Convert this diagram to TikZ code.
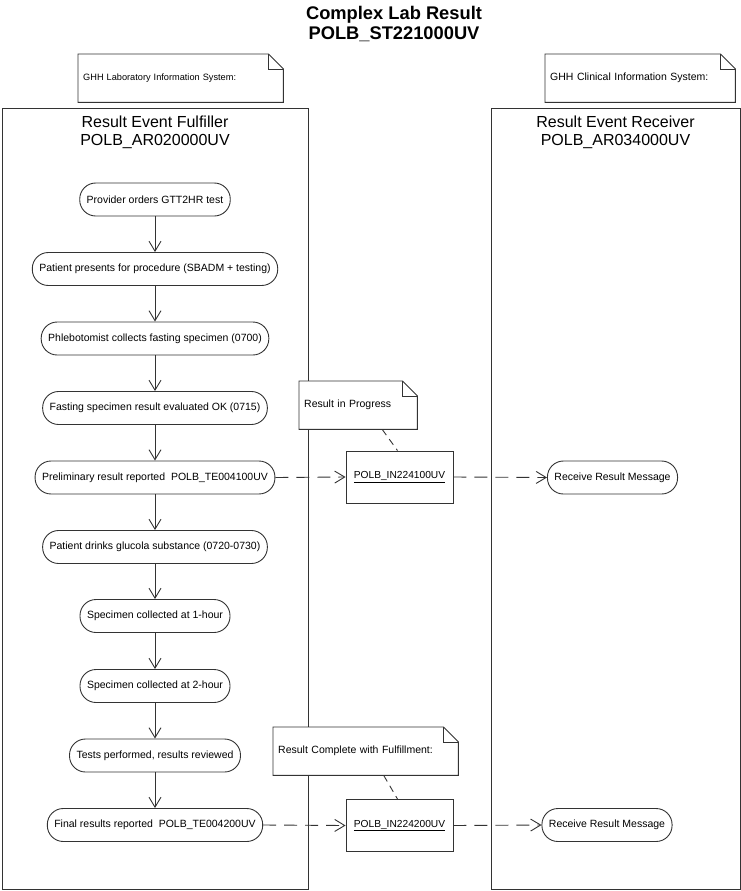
\documentclass[tikz,border=0pt]{standalone}
\usepackage{fontspec}
\setmainfont{Liberation Sans}
\usetikzlibrary{arrows.meta}
\pgfdeclarelayer{bg}
\pgfdeclarelayer{mid}
\pgfsetlayers{bg,mid,main}
\begin{document}
\begin{tikzpicture}[x=1pt,y=-1pt,
  ln/.style={draw=black!80, line width=0.9pt},
  flow/.style={ln, -{Straight Barb[length=10pt,width=12pt]}},
  msg/.style={ln, dash pattern=on 13pt off 8pt, -{Straight Barb[length=10pt,width=12pt]}},
  notelink/.style={ln, dash pattern=on 7pt off 5pt},
  pill/.style={ln, rounded corners=16pt, minimum height=33pt, inner xsep=7pt, inner ysep=0pt, font=\fontsize{10.5}{12}\selectfont},
  msgbox/.style={ln, fill=white, minimum width=107pt, minimum height=52pt, inner sep=0pt, font=\fontsize{10.2}{12}\selectfont},
  notetext/.style={minimum height=48pt, inner xsep=5pt, inner ysep=0pt, align=left, anchor=north west, font=\fontsize{10.5}{12}\selectfont},
  lane/.style={ln, anchor=north west, inner sep=0pt},
  lanetitle/.style={align=center, font=\fontsize{16}{18}\selectfont},
  titlestyle/.style={align=center, font=\bfseries\fontsize{18.3}{19.5}\selectfont}
]
\useasboundingbox (0,0) rectangle (741,891);

% title
\node[titlestyle] (title) at (394,24) {Complex Lab Result\\POLB\_ST221000UV};

% lanes
\begin{pgfonlayer}{bg}
\node[lane, minimum width=306pt, minimum height=781pt] (L1) at (2,108) {};
\node[lane, minimum width=249pt, minimum height=781pt] (L2) at (491,108) {};
\end{pgfonlayer}
\node[lanetitle] (t1) at (155,132) {Result Event Fulfiller\\POLB\_AR020000UV};
\node[lanetitle] (t2) at (615.5,132) {Result Event Receiver\\POLB\_AR034000UV};

% notes
\node[notetext, text width=195pt, font=\fontsize{9.2}{11}\selectfont] (n1) at (78,54) {GHH Laboratory Information System:};
\node[notetext, text width=180pt] (n2) at (545,54) {GHH Clinical Information System:};
\node[notetext, text width=108pt] (n3) at (299,381) {Result in Progress};
\node[notetext, text width=175pt] (n4) at (273,727) {Result Complete with Fulfillment:};
\begin{pgfonlayer}{mid}
\foreach \n in {n1,n2,n3,n4}{
  \draw[ln, fill=white] (\n.north west) -- ([xshift=-15pt]\n.north east) -- ([yshift=-15pt]\n.north east) -- (\n.south east) -- (\n.south west) -- cycle;
  \draw[ln] ([xshift=-15pt]\n.north east) |- ([yshift=-15pt]\n.north east);
}
\end{pgfonlayer}

% activities
\node[pill] (a1) at (155,199.5) {Provider orders GTT2HR test};
\node[pill] (a2) at (155,269) {Patient presents for procedure (SBADM + testing)};
\node[pill] (a3) at (155,338.5) {Phlebotomist collects fasting specimen (0700)};
\node[pill] (a4) at (155,408) {Fasting specimen result evaluated OK (0715)};
\node[pill] (a5) at (155,477.5) {Preliminary result reported\ \ POLB\_TE004100UV};
\node[pill] (a6) at (155,547) {Patient drinks glucola substance (0720-0730)};
\node[pill] (a7) at (155,616) {Specimen collected at 1-hour};
\node[pill] (a8) at (155,686) {Specimen collected at 2-hour};
\node[pill] (a9) at (155,755.5) {Tests performed, results reviewed};
\node[pill] (a10) at (155,825) {Final results reported\ \ POLB\_TE004200UV};

\foreach \i/\j in {a1/a2,a2/a3,a3/a4,a4/a5,a5/a6,a6/a7,a7/a8,a8/a9,a9/a10}
  \draw[flow] (\i) -- (\j);

% messages
\node[msgbox] (m1) at (399.5,477) {\underline{POLB\_IN224100UV}};
\node[msgbox] (m2) at (399.5,825.5) {\underline{POLB\_IN224200UV}};
\node[pill] (r1) at (612.5,477.5) {Receive Result Message};
\node[pill] (r2) at (607,825) {Receive Result Message};

\draw[msg] (a5.east) -- (m1.west);
\draw[msg] (m1.east) -- (r1.west);
\draw[msg] (a10.east) -- (m2.west);
\draw[msg] (m2.east) -- (r2.west);

\draw[notelink] ([xshift=24pt]n3.south) -- ([xshift=-2pt]m1.north);
\draw[notelink] ([xshift=18pt]n4.south) -- ([xshift=-2pt]m2.north);
\end{tikzpicture}
\end{document}
